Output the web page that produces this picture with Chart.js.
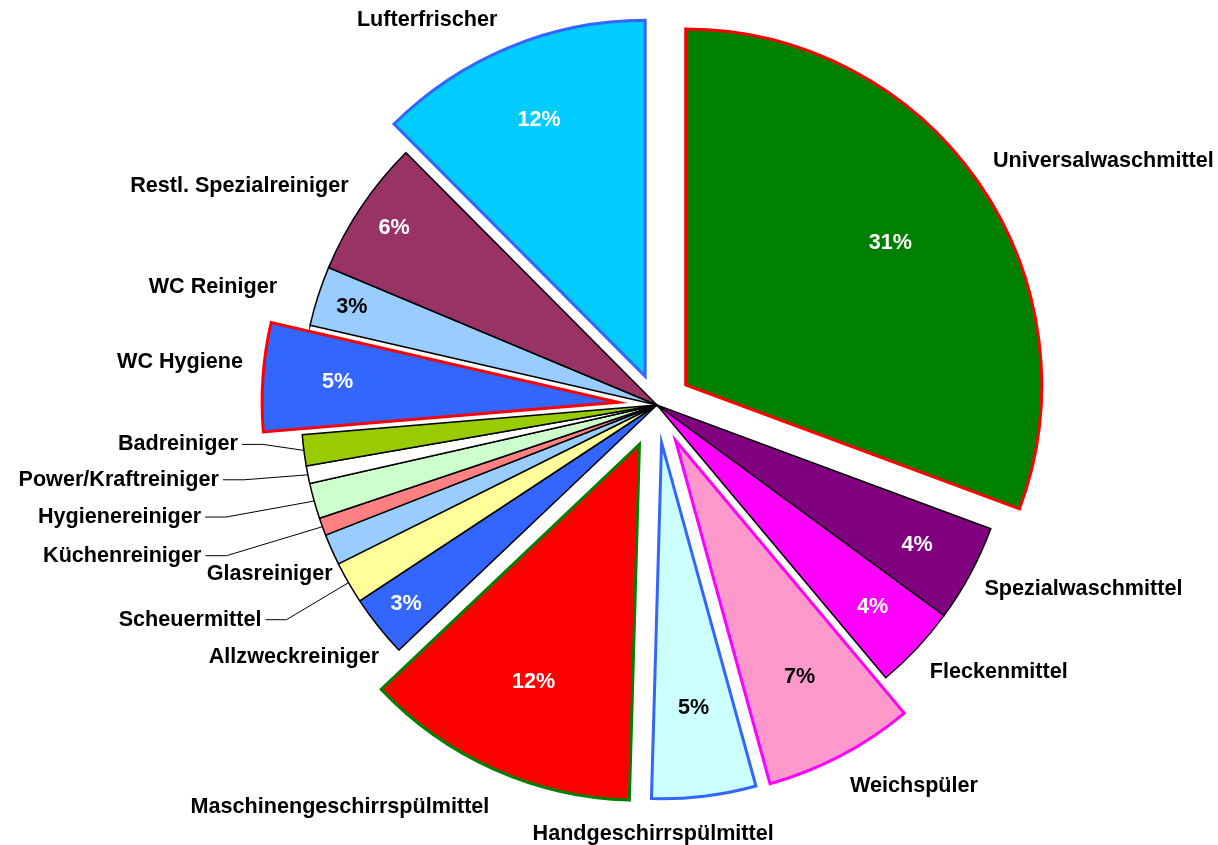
<!DOCTYPE html>
<html>
<head>
<meta charset="utf-8">
<title>Reinigungsmittel - Anteile</title>
<script src="https://cdn.jsdelivr.net/npm/chart.js@4.4.0/dist/chart.umd.min.js"></script>
<style>
  html, body { margin: 0; padding: 0; background: #fff; }
  #wrap { width: 1218px; height: 845px; }
</style>
</head>
<body>
<div id="wrap"><canvas id="pie_chart"></canvas></div>
<script>
// slices, clockwise from 12 o'clock
var categories = ["Universalwaschmittel", "Spezialwaschmittel", "Fleckenmittel", "Weichspüler",
  "Handgeschirrspülmittel", "Maschinengeschirrspülmittel", "Allzweckreiniger", "Scheuermittel",
  "Glasreiniger", "Küchenreiniger", "Hygienereiniger", "Power/Kraftreiniger", "Badreiniger",
  "WC Hygiene", "WC Reiniger", "Restl. Spezialreiniger", "Lufterfrischer"];

// share in percent
var shares = [30.5, 4.4, 3.8, 6.8, 4.7, 12.4, 2.8, 1.9, 1.4, 0.8, 1.6, 0.8, 1.4, 4.9, 2.7, 6.2, 12.4];

// styling
var fills = ["#008000", "#800080", "#FF00FF", "#FF99CC", "#CCFFFF", "#FF0000", "#3366FF", "#FFFF99",
  "#99CCFF", "#FF8080", "#CCFFCC", "#FFFFFF", "#99CC00", "#3366FF", "#99CCFF", "#993366", "#00CCFF"];
var borders = ["#FF0000", "#000", "#000", "#FF00FF", "#3366FF", "#008000", "#000", "#000",
  "#000", "#000", "#000", "#000", "#000", "#FF0000", "#000", "#000", "#3366FF"];
var borderWidths = [3, 1.5, 1.5, 3, 3, 3, 1.5, 1.5, 1.5, 1.5, 1.5, 1.5, 1.5, 3, 1.5, 1.5, 3];
var explode = [35, 0, 0, 40, 38, 43, 0, 0, 0, 0, 0, 0, 0, 39, 0, 0, 31];
var pctColors = ["#fff", "#fff", "#fff", "#000", "#000", "#fff", "#fff", "#000", "#000", "#000",
  "#000", "#000", "#000", "#fff", "#000", "#fff", "#fff"];
// where the % label sits, as a fraction of the radius
var pctRadius = [0.70, 0.83, 0.83, 0.75, 0.75, 0.73, 0.90, 0, 0, 0, 0, 0, 0, 0.79, 0.90, 0.89, 0.78];
// category label: shift from the outer edge point [dx, dy, align, leader line]
var labelShift = [
  [15, -21, 'left'], [14, 15, 'left'], [13, 24, 'left'], [9, 30, 'left'],
  [-51, 38, 'center'], [-5, 38, 'right'], [1, 31, 'right'], [-87, 37, 'right', true],
  [1, 24, 'right'], [-121, 29, 'right', true], [-113, 16, 'right', true], [-89, 5, 'right', true],
  [-66, -6, 'right', true], [-20, -15, 'right'], [-41, -9, 'right'], [-13, -20, 'right'],
  [-12, -27, 'right']
];

var FONT = 'bold 21.6px "Liberation Sans", Arial, sans-serif';

// move exploded slices out (plain translation, like Excel does)
function sliceShift(arc, i) {
  var mid = (arc.startAngle + arc.endAngle) / 2;
  return { dx: Math.cos(mid) * explode[i], dy: Math.sin(mid) * explode[i], mid: mid };
}

var explodePlugin = {
  id: 'explode',
  beforeDatasetDraw: function(chart, args) {
    var ctx = chart.ctx;
    args.meta.data.forEach(function(arc, i) {
      var s = sliceShift(arc, i);
      ctx.save();
      ctx.translate(s.dx, s.dy);
      arc.draw(ctx);
      ctx.restore();
    });
    return false;
  }
};

var labelPlugin = {
  id: 'sliceLabels',
  afterDatasetsDraw: function(chart) {
    var ctx = chart.ctx;
    var meta = chart.getDatasetMeta(0);
    var total = shares.reduce(function(a, b) { return a + b; }, 0);
    ctx.save();
    ctx.font = FONT;
    ctx.textBaseline = 'middle';
    meta.data.forEach(function(arc, i) {
      var s = sliceShift(arc, i);
      var cx = arc.x + s.dx, cy = arc.y + s.dy;
      var cos = Math.cos(s.mid), sin = Math.sin(s.mid);
      var R = arc.outerRadius;

      var pct = shares[i] / total * 100;
      if (pct >= 2.5) {
        ctx.fillStyle = pctColors[i];
        ctx.textAlign = 'center';
        ctx.fillText(Math.round(pct) + '%', cx + R * pctRadius[i] * cos, cy + R * pctRadius[i] * sin);
      }

      var ex = cx + R * cos, ey = cy + R * sin;
      var ls = labelShift[i];
      var lx = ex + ls[0], ly = ey + ls[1];
      ctx.fillStyle = '#000';
      ctx.textAlign = ls[2];
      ctx.fillText(categories[i], lx, ly);
      if (ls[3]) {
        ctx.strokeStyle = '#000';
        ctx.lineWidth = 1;
        ctx.beginPath();
        ctx.moveTo(lx + 4, ly);
        ctx.lineTo(lx + 25, ly);
        ctx.lineTo(ex, ey);
        ctx.stroke();
      }
    });
    ctx.restore();
  }
};

var ctx = document.getElementById("pie_chart");
var pie_chart = new Chart(ctx, {
  type: 'pie',
  data: {
    labels: categories,
    datasets: [{
      data: shares,
      backgroundColor: fills,
      borderColor: borders,
      borderWidth: borderWidths,
      borderJoinStyle: 'miter'
    }]
  },
  options: {
    responsive: true,
    maintainAspectRatio: false,
    animation: false,
    events: [],
    radius: 356,
    layout: { padding: { left: 96, right: 0, top: 0, bottom: 35 } },
    plugins: {
      legend: { display: false },
      tooltip: { enabled: false }
    }
  },
  plugins: [explodePlugin, labelPlugin]
});
</script>
</body>
</html>
